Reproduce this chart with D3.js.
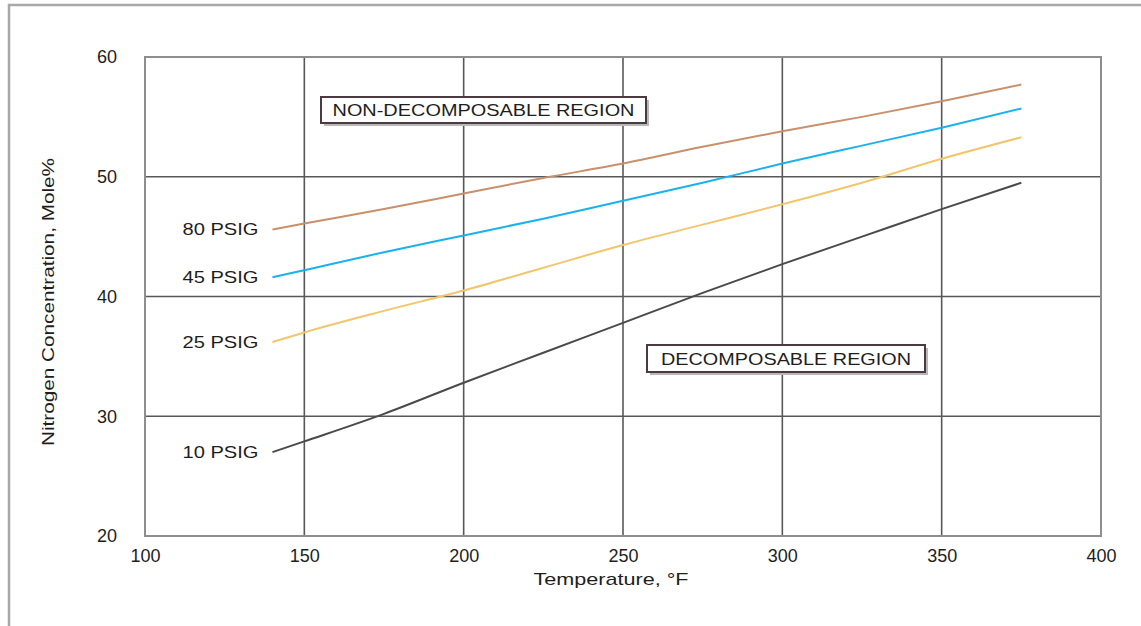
<!DOCTYPE html>
<html>
<head>
<meta charset="utf-8">
<script src="https://cdn.jsdelivr.net/npm/d3@7"></script>
<style>
html,body{margin:0;padding:0;background:#fff;}
svg{display:block;font-family:"Liberation Sans",Arial,sans-serif;}
</style>
</head>
<body>
<svg id="chart" width="1141" height="626"></svg>
<script>
const temps = [140, 150, 175, 200, 225, 250, 275, 300, 325, 350, 375];
const psig80 = [45.6, 46.1, 47.3, 48.6, 49.9, 51.1, 52.5, 53.8, 55.0, 56.3, 57.7];
const psig45 = [41.6, 42.2, 43.7, 45.1, 46.5, 48.0, 49.5, 51.1, 52.6, 54.1, 55.7];
const psig25 = [36.2, 37.0, 38.8, 40.5, 42.4, 44.3, 46.0, 47.7, 49.5, 51.5, 53.3];
const psig10 = [27.0, 27.9, 30.2, 32.8, 35.3, 37.8, 40.3, 42.7, 45.0, 47.3, 49.5];
const seriesNames = ["80 PSIG", "45 PSIG", "25 PSIG", "10 PSIG"];
const seriesColors = ["#c9906c", "#1ab2ee", "#f1c66c", "#4a4a4a"];
const xTicks = [100, 150, 200, 250, 300, 350, 400];
const yTicks = [20, 30, 40, 50, 60];
const regionLabels = ["NON-DECOMPOSABLE REGION", "DECOMPOSABLE REGION"];

const svg = d3.select("#chart");
const L = 145, R = 1101, T = 57, B = 536;
const x = d3.scaleLinear().domain([100, 400]).range([L, R]);
const y = d3.scaleLinear().domain([20, 60]).range([B, T]);
const txt = "#1e1e1e";

// outer frame
svg.append("path").attr("d", `M9,626 L9,5 L1141,5`).attr("fill", "none")
  .attr("stroke", "#a8a8a8").attr("stroke-width", 2.5);

// gridlines
const g = svg.append("g");
g.selectAll(".vg").data(xTicks.slice(1, -1)).join("line")
  .attr("x1", d => x(d)).attr("x2", d => x(d)).attr("y1", T).attr("y2", B)
  .attr("stroke", "#585858").attr("stroke-width", 1.6);
g.selectAll(".hg").data(yTicks.slice(1, -1)).join("line")
  .attr("x1", L).attr("x2", R).attr("y1", d => y(d)).attr("y2", d => y(d))
  .attr("stroke", "#585858").attr("stroke-width", 1.6);
// plot border
svg.append("rect").attr("x", L).attr("y", T).attr("width", R - L).attr("height", B - T)
  .attr("fill", "none").attr("stroke", "#8e8e8e").attr("stroke-width", 2);

// axes tick labels
const xAxis = d3.axisBottom(x).tickValues(xTicks).tickSize(0).tickPadding(13);
const xa = svg.append("g").attr("transform", `translate(0,${B})`).call(xAxis);
xa.select(".domain").remove();
xa.selectAll("text").attr("font-size", 18).attr("fill", txt)
  .attr("font-family", "Liberation Sans, Arial, sans-serif");

const yAxis = d3.axisLeft(y).tickValues(yTicks).tickSize(0).tickPadding(28);
const ya = svg.append("g").attr("transform", `translate(${L},0)`).call(yAxis);
ya.select(".domain").remove();
ya.selectAll("text").attr("font-size", 18).attr("fill", txt)
  .attr("font-family", "Liberation Sans, Arial, sans-serif");

// axis titles
svg.append("text").attr("x", 611).attr("y", 585).attr("text-anchor", "middle")
  .attr("font-size", 17).attr("fill", txt)
  .attr("textLength", 155).attr("lengthAdjust", "spacingAndGlyphs")
  .text("Temperature,  °F");
svg.append("text").attr("transform", "translate(54,302) rotate(-90)").attr("text-anchor", "middle")
  .attr("font-size", 17).attr("fill", txt)
  .attr("textLength", 288).attr("lengthAdjust", "spacingAndGlyphs")
  .text("Nitrogen Concentration, Mole%");

// series lines
const allSeries = [psig80, psig45, psig25, psig10];
const line = d3.line().x((d, i) => x(temps[i])).y(d => y(d)).curve(d3.curveMonotoneX);
allSeries.forEach((s, k) => {
  svg.append("path").datum(s).attr("d", line).attr("fill", "none")
    .attr("stroke", seriesColors[k]).attr("stroke-width", 2);
  svg.append("text").attr("x", x(temps[0]) - 14).attr("y", y(s[0]) + 6)
    .attr("text-anchor", "end").attr("font-size", 17).attr("fill", txt)
    .attr("textLength", 76).attr("lengthAdjust", "spacingAndGlyphs")
    .text(seriesNames[k]);
});

// region boxes
function regionBox(bx, by, bw, bh, label, tw) {
  svg.append("rect").attr("x", bx + 3).attr("y", by + 3).attr("width", bw).attr("height", bh)
    .attr("fill", "#b8b8b8");
  svg.append("rect").attr("x", bx).attr("y", by).attr("width", bw).attr("height", bh)
    .attr("fill", "#fff").attr("stroke", "#4b3a42").attr("stroke-width", 2);
  svg.append("text").attr("x", bx + bw / 2).attr("y", by + bh / 2 + 6).attr("text-anchor", "middle")
    .attr("font-size", 17).attr("fill", txt)
    .attr("textLength", tw).attr("lengthAdjust", "spacingAndGlyphs")
    .text(label);
}
regionBox(321, 97, 325, 26, regionLabels[0], 302);
regionBox(647, 345, 278, 27, regionLabels[1], 250);
</script>
</body>
</html>
